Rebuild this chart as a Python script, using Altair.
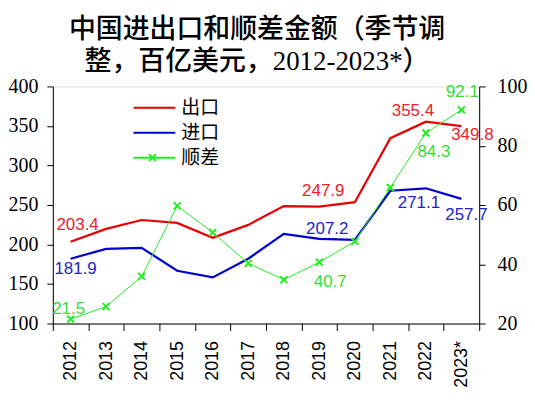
import altair as alt
import pandas as pd

years = ["2012", "2013", "2014", "2015", "2016", "2017", "2018", "2019", "2020", "2021", "2022", "2023*"]
exports = [203.4, 219.7, 231.0, 227.3, 208.5, 224.8, 248.6, 247.9, 253.5, 334.5, 355.4, 349.8]
imports = [181.9, 194.5, 195.8, 166.8, 158.3, 182.0, 213.4, 207.2, 205.9, 268.0, 271.1, 257.7]
surplus = [21.5, 25.7, 35.9, 59.7, 50.7, 40.3, 34.8, 40.7, 47.7, 65.9, 84.3, 92.1]
series_names = ["出口", "进口", "顺差"]
title_lines = ["中国进出口和顺差金额（季节调", "整，百亿美元，2012-2023*）"]

rows = []
for name, vals in zip(series_names, [exports, imports, surplus]):
    for y, v in zip(years, vals):
        rows.append({"year": y, "series": name, "value": v})
df = pd.DataFrame(rows)

RED = "#e60000"
BLUE = "#0000cc"
GREEN = "#22ee22"
LRED = "#e8222a"
LBLUE = "#2222cc"
LGREEN = "#33dd33"
XPATH = "M-1,-1L1,1M-1,1L1,-1"

SERIF = "Liberation Serif, Noto Sans CJK SC"
SANS = "Liberation Sans"

x_enc = alt.X(
    "year:N", sort=years, bandPosition=0.5,
    scale=alt.Scale(type="band", paddingInner=0, paddingOuter=0),
    axis=alt.Axis(title=None, labelAngle=-90, tickBand="extent", tickSize=7,
                  labelPadding=10, labelFont=SANS, labelFontSize=18,
                  labelColor="black", domainColor="black", tickColor="black",
                  grid=False),
)

left_axis = alt.Axis(title=None, values=[100, 150, 200, 250, 300, 350, 400],
                     tickSize=6, labelPadding=9, labelFont=SERIF, labelFontSize=20,
                     labelColor="black", domainColor="black", tickColor="black",
                     grid=False, minExtent=45, maxExtent=45)
right_axis = alt.Axis(title=None, orient="right", values=[20, 40, 60, 80, 100],
                      tickSize=6, labelPadding=12, labelFont=SERIF, labelFontSize=20,
                      labelColor="black", domainColor="black", tickColor="black",
                      grid=False)

def yl():
    return alt.Y("value:Q", scale=alt.Scale(domain=[100, 400], nice=False, zero=False), axis=left_axis)

def yr():
    return alt.Y("value:Q", scale=alt.Scale(domain=[20, 100], nice=False, zero=False), axis=right_axis)

legend = alt.Legend(
    title=None, orient="none", legendX=80, legendY=9,
    symbolType="stroke", symbolSize=1764, symbolStrokeWidth=2,
    labelFont="Noto Sans CJK SC", labelFontSize=19, labelColor="black",
    labelOffset=5, clipHeight=25, rowPadding=0,
)
color_enc = alt.Color("series:N", scale=alt.Scale(domain=series_names, range=[RED, BLUE, GREEN]),
                      legend=legend)

marker_legend = alt.Legend(
    title=None, orient="none", legendX=95, legendY=59,
    symbolSize=49, symbolStrokeWidth=2, symbolStrokeColor=GREEN, symbolFillColor="transparent",
    labelExpr="''", labelFontSize=10, labelOffset=0, clipHeight=25, rowPadding=0,
)

base = alt.Chart(df)

lines_lr = base.transform_filter(alt.FieldOneOfPredicate(field="series", oneOf=["出口", "进口"])).mark_line(
    strokeWidth=2.2).encode(x=x_enc, y=yl(), color=color_enc, detail="series:N")

line_s = base.transform_filter(alt.datum.series == "顺差").mark_line(strokeWidth=1).encode(
    x=x_enc, y=yr(), color=color_enc)
pts_s = base.transform_filter(alt.datum.series == "顺差").transform_calculate(mk="'x'").mark_point(
    filled=False, size=49, strokeWidth=2, color=GREEN, opacity=1).encode(
    x=x_enc, y=yr(),
    shape=alt.Shape("mk:N", scale=alt.Scale(domain=["x"], range=[XPATH]), legend=marker_legend))

label_specs_left = [
    ("出口", "2012", 7, -17, LRED),
    ("出口", "2019", 4, -16, LRED),
    ("出口", "2022", -13, -11, LRED),
    ("出口", "2023*", 11, 9, LRED),
    ("进口", "2012", 5, 10, LBLUE),
    ("进口", "2019", 8, -10, LBLUE),
    ("进口", "2022", -7, 15, LBLUE),
    ("进口", "2023*", 5, 16, LBLUE),
]
label_specs_right = [
    ("顺差", "2012", -2, -10, LGREEN),
    ("顺差", "2019", 11, 20, LGREEN),
    ("顺差", "2022", 8, 19, LGREEN),
    ("顺差", "2023*", 1, -18, LGREEN),
]

def label_layer(s, yr_, dx, dy, col, yfun):
    return base.transform_filter(
        (alt.datum.series == s) & (alt.datum.year == yr_)
    ).mark_text(dx=dx, dy=dy, color=col, font=SANS, fontSize=17, align="center", baseline="middle").encode(
        x=x_enc, y=yfun(), text=alt.Text("value:Q", format=".1f"))

left = alt.layer(lines_lr, *[label_layer(s, y, dx, dy, c, yl) for s, y, dx, dy, c in label_specs_left])
right = alt.layer(line_s, pts_s, *[label_layer(s, y, dx, dy, c, yr) for s, y, dx, dy, c in label_specs_right])

chart = alt.layer(left, right).resolve_scale(y="independent").properties(
    width=428, height=238,
    padding={"left": 0, "right": 0, "top": 7, "bottom": 0},
    title=alt.TitleParams(text=title_lines, font=SERIF, fontSize=27, fontWeight=500,
                          lineHeight=33, anchor="middle", dx=-9, offset=0, color="black"),
).configure_view(strokeWidth=0).configure(background="white")

chart.save("out.html", embed_options={"renderer": "svg", "actions": False})
